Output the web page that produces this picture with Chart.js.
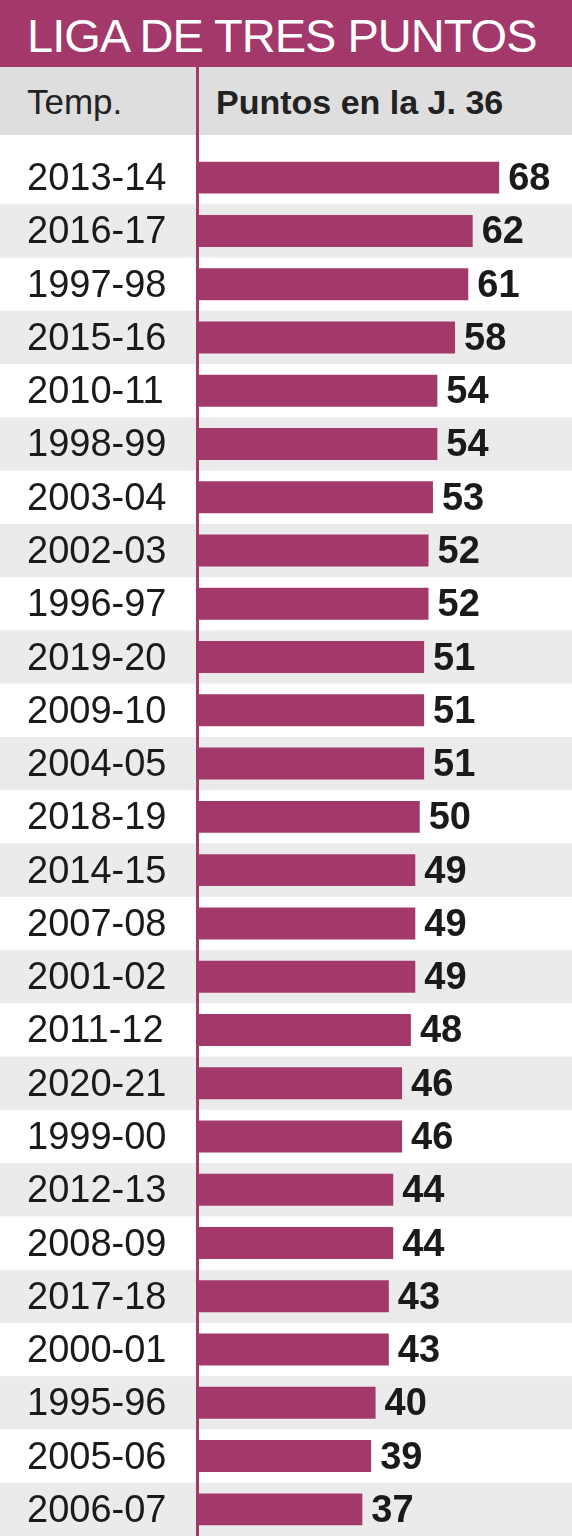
<!DOCTYPE html>
<html>
<head>
<meta charset="utf-8">
<script src="https://cdn.jsdelivr.net/npm/chart.js@4"></script>
<style>
  body { margin: 0; width: 572px; height: 1536px; background: #fff; position: relative; overflow: hidden;
         font-family: "Liberation Sans Narrow", "Liberation Sans", Arial, sans-serif; }
  #title { position: absolute; left: 0; top: 0; width: 572px; height: 67px; background: #a3386b; color: #fff;
           font-size: 47px; line-height: 72px; padding-left: 27px; box-sizing: border-box; letter-spacing: -1px; white-space: nowrap; }
  #header { position: absolute; left: 0; top: 67px; width: 572px; height: 68px; background: #dedede; }
  #hTemp { position: absolute; left: 27px; top: 15px; font-size: 35px; color: #222; }
  #hPts { position: absolute; left: 216px; top: 16px; font-size: 34px; font-weight: bold; color: #222; white-space: nowrap; }
  #vline { position: absolute; left: 196px; top: 67px; width: 3px; height: 1469px; background: #a3386b; z-index: 5; }
  #wrap { position: absolute; left: 0; top: 151px; width: 572px; height: 1385px; }
</style>
</head>
<body>
<div id="title">LIGA DE TRES PUNTOS</div>
<div id="header"><span id="hTemp">Temp.</span><span id="hPts">Puntos en la J. 36</span></div>
<div id="vline"></div>
<div id="wrap"><canvas id="chart"></canvas></div>
<script>
const seasons = ['2013-14','2016-17','1997-98','2015-16','2010-11','1998-99','2003-04','2002-03','1996-97',
  '2019-20','2009-10','2004-05','2018-19','2014-15','2007-08','2001-02','2011-12','2020-21','1999-00',
  '2012-13','2008-09','2017-18','2000-01','1995-96','2005-06','2006-07'];
const points = [68,62,61,58,54,54,53,52,52,51,51,51,50,49,49,49,48,46,46,44,44,43,43,40,39,37];

const barColor = '#a3386b';

// alternating grey bands and season labels on the left
const rowsPlugin = {
    id: 'rows',
    beforeDatasetsDraw(chart) {
        const ctx = chart.ctx;
        const y = chart.scales.y;
        const step = chart.height / seasons.length;
        ctx.save();
        seasons.forEach((s, i) => {
            const cy = y.getPixelForValue(i);
            if (i % 2 === 1) {
                ctx.fillStyle = '#ebebeb';
                ctx.fillRect(0, cy - step / 2, chart.width, step);
            }
            ctx.fillStyle = '#1a1a1a';
            ctx.font = '38px "Liberation Sans Narrow", "Liberation Sans", sans-serif';
            ctx.textBaseline = 'middle';
            ctx.textAlign = 'left';
            ctx.fillText(s, 27, cy + 2);
        });
        ctx.restore();
    },
    afterDatasetsDraw(chart) {
        const ctx = chart.ctx;
        const meta = chart.getDatasetMeta(0);
        ctx.save();
        ctx.fillStyle = '#1a1a1a';
        ctx.font = 'bold 38px "Liberation Sans Narrow", "Liberation Sans", sans-serif';
        ctx.textBaseline = 'middle';
        meta.data.forEach((bar, i) => {
            ctx.fillText(points[i], bar.x + 9, bar.y + 2);
        });
        ctx.restore();
    }
};

new Chart(document.getElementById('chart'), {
    type: 'bar',
    data: {
        labels: seasons,
        datasets: [{
            data: points,
            backgroundColor: barColor,
            categoryPercentage: 1,
            barPercentage: 0.6
        }]
    },
    options: {
        indexAxis: 'y',
        responsive: true,
        maintainAspectRatio: false,
        animation: false,
        layout: { padding: { left: 199, right: 0, top: 0, bottom: 0 } },
        plugins: { legend: { display: false }, tooltip: { enabled: false } },
        scales: {
            x: { display: false, min: 0, max: 84.5 },
            y: { display: false }
        }
    },
    plugins: [rowsPlugin]
});
</script>
</body>
</html>
